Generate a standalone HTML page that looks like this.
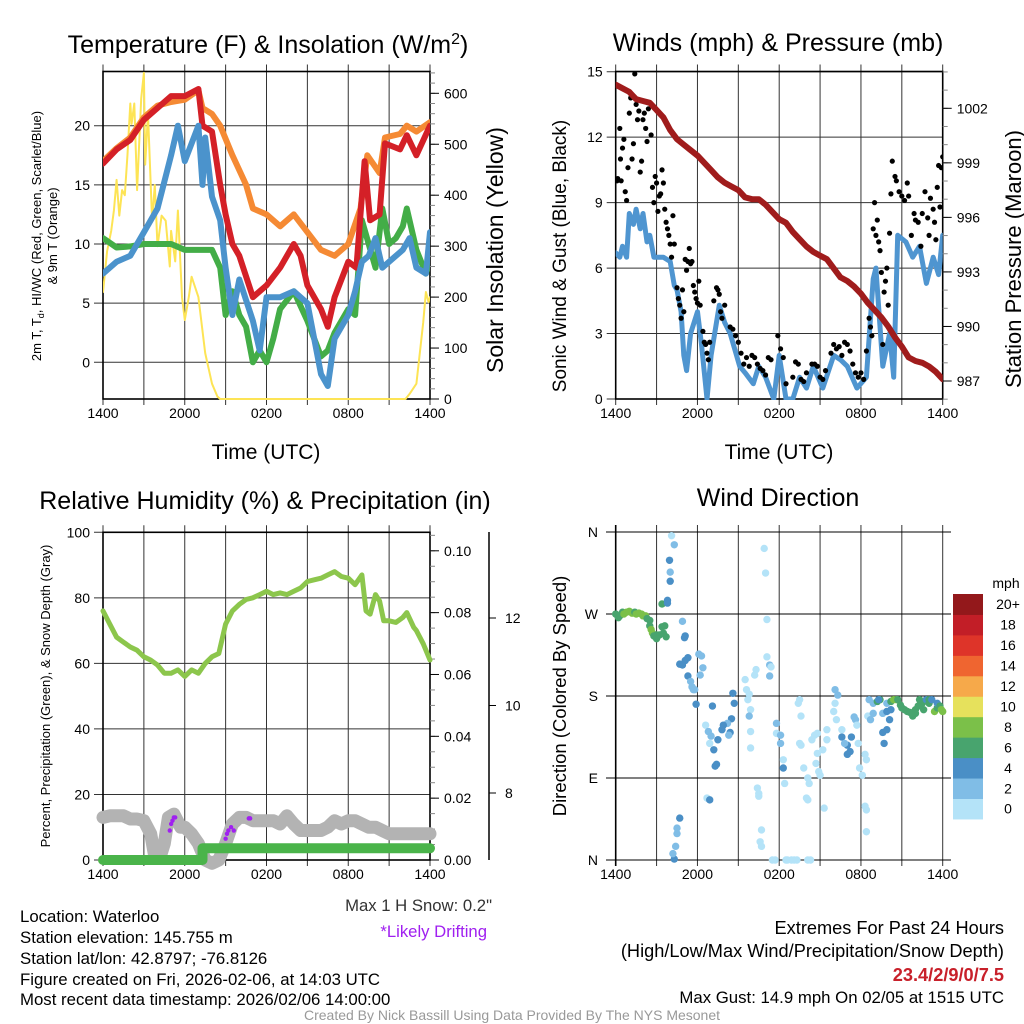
<!DOCTYPE html>
<html><head><meta charset="utf-8"><style>
html,body{margin:0;padding:0;background:#fff;}
svg{display:block;font-family:"Liberation Sans",Arial,sans-serif;}
</style></head><body>
<svg id="fig" width="1024" height="1024" viewBox="0 0 1024 1024" xmlns="http://www.w3.org/2000/svg">
<defs>
<clipPath id="c1"><rect x="103" y="71" width="327" height="329"/></clipPath>
<clipPath id="c2"><rect x="615.7" y="71" width="327" height="329"/></clipPath>
<clipPath id="c3"><rect x="90" y="520" width="360" height="360"/></clipPath>
<clipPath id="c4"><rect x="605" y="525" width="348" height="342"/></clipPath>
</defs>
<g id="p1"></g>
<g id="p2"></g>
<g id="p3"></g>
<g id="p4"></g>
<g font-size="25" fill="#000" text-anchor="middle">
<text x="268" y="53">Temperature (F) &amp; Insolation (W/m<tspan dy="-9" font-size="16">2</tspan><tspan dy="9">)</tspan></text>
<text x="778" y="51">Winds (mph) &amp; Pressure (mb)</text>
<text x="265" y="509">Relative Humidity (%) &amp; Precipitation (in)</text>
<text x="778" y="506">Wind Direction</text>
</g>
<g fill="#000" text-anchor="middle">
<text x="266" y="459" font-size="21">Time (UTC)</text>
<text x="779" y="459" font-size="21">Time (UTC)</text>
<text transform="translate(41,236) rotate(-90)" font-size="13">2m T, T<tspan font-size="9" dy="3">d</tspan><tspan dy="-3">, HI/WC (Red, Green, Scarlet/Blue)</tspan></text>
<text transform="translate(57,236) rotate(-90)" font-size="13">&amp; 9m T (Orange)</text>
<text transform="translate(503,250) rotate(-90)" font-size="23">Solar Insolation (Yellow)</text>
<text transform="translate(566,256) rotate(-90)" font-size="19">Sonic Wind &amp; Gust (Blue, Black)</text>
<text transform="translate(1021,259) rotate(-90)" font-size="22">Station Pressure (Maroon)</text>
<text transform="translate(50,696) rotate(-90)" font-size="13">Percent, Precipitation (Green), &amp; Snow Depth (Gray)</text>
<text transform="translate(566,696) rotate(-90)" font-size="18.5">Direction (Colored By Speed)</text>
</g>
<g font-size="16.8" fill="#000">
<text x="20" y="922">Location: Waterloo</text>
<text x="20" y="943">Station elevation: 145.755 m</text>
<text x="20" y="964">Station lat/lon: 42.8797; -76.8126</text>
<text x="20" y="985">Figure created on Fri, 2026-02-06, at 14:03 UTC</text>
<text x="20" y="1005">Most recent data timestamp: 2026/02/06 14:00:00</text>
</g>
<g font-size="18.2" text-anchor="end">
<text x="492" y="911" fill="#333" font-size="16.7">Max 1 H Snow: 0.2"</text>
<text x="487" y="937" fill="#a020f0" font-size="16.7">*Likely Drifting</text>
<text x="1004" y="934" fill="#000">Extremes For Past 24 Hours</text>
<text x="1004" y="957" fill="#000">(High/Low/Max Wind/Precipitation/Snow Depth)</text>
<text x="1004" y="981" fill="#c8202a" font-weight="bold">23.4/2/9/0/7.5</text>
<text x="1004" y="1003" fill="#000" font-size="16.8">Max Gust: 14.9 mph On 02/05 at 1515 UTC</text>
<text x="512" y="1020" fill="#999" font-size="14" text-anchor="middle">Created By Nick Bassill Using Data Provided By The NYS Mesonet</text>
</g>
</svg>
<script>
// ---------- data ----------
const timeTickLabels = ["1400","2000","0200","0800","1400"];
// Panel 1
const tempHours = [0,1,2,3,4,5,6,7,7.3,8,8.6,9,9.5,10,11,12,13,14,14.5,15,16,16.5,17,18,18.6,19.2,19.6,20.3,20.7,21.8,22.3,23,24];
const tempValues = [16.8,18,18.8,20.5,21.5,22.5,22.5,23.1,20,19.5,15,12.5,10,9,5.5,6.5,8,10,9,6.5,4.5,3,5.5,8.5,8,17,12,12.5,18.5,18,19.2,17.5,20];
const temp9mHours = [0,1,2,3,4,5,6,7,7.3,8,8.6,9.5,10.5,11,12,13,14,15,16,17,18,18.9,19.4,20.3,20.7,21.8,22.3,23,24];
const temp9mValues = [17,18.1,19,20.7,21.7,22,22.2,23,21.5,21,20,17.5,15,13,12.5,11.5,12.5,11,9.5,9,10,13,17.5,16,19,19.3,20,19.5,20.3];
const wcHours = [0,1,2,3,4,5,5.5,6,6.5,7,7.3,7.5,8,8.6,9,9.5,10,11,11.5,12,13,14,15,16,16.5,17,18,18.5,19,19.5,20,20.5,21,22,22.5,23,23.7,24];
const wcValues = [7.5,8.5,9,11,13,17.5,20,17,18.5,20,15,19,14,12,8,4,7,3.5,1,5.5,5.5,6,5,-1,-2,2,4,6,8.5,9,10.5,8,8.5,9.5,10.5,8,7.5,11];
const dewHours = [0,1,2,3,4,5,6,7,8,8.6,9,9.5,10,10.5,11,11.5,12,12.5,13,14,15,16,16.5,17,18,18.5,19,19.5,20,20.5,21,21.5,22,22.3,23,23.7,24];
const dewValues = [10.5,9.7,9.8,10,10,10,9.5,9.5,9.5,8,4,6,4,3,0,1,0,2,4.5,6,3.5,0.5,1,2.5,4.5,4,12,10,8,13,10,10.5,11.5,13,9.5,7.5,8.5];
const solarHours = [0,0.3,0.6,0.8,1,1.2,1.4,1.6,1.8,2,2.1,2.3,2.5,2.8,3,3.1,3.3,3.6,3.8,4,4.3,4.6,4.9,5,5.3,5.5,5.8,6,6.3,6.5,7,7.5,8,8.4,8.6,22.2,22.5,23,23.5,23.7,23.9,24];
const solarValues = [210,290,330,370,430,360,410,400,480,580,540,580,410,590,640,460,560,350,420,300,360,350,260,330,270,370,200,155,200,240,200,90,30,5,0,0,10,30,150,210,190,200];
const tempTicks = [0,5,10,15,20];
const solarTicks = [0,100,200,300,400,500,600];
// Panel 2
const windHours = [0,0.3,0.5,0.8,1,1.3,1.5,1.8,2,2.3,2.5,2.8,3,3.5,4,4.3,4.5,4.8,5,5.2,5.5,6,6.3,6.7,7,7.6,8,8.4,9.1,9.5,10.1,10.5,11,11.6,12,12.5,13,13.5,14,14.5,15.2,16,16.5,17,17.7,18.4,18.9,19.1,19.6,20.1,20.4,20.7,21.3,21.8,22.3,22.8,23.3,23.7,24];
const windValues = [6.7,6.5,7,6.5,8.5,8,8.7,7.8,8.5,7.2,7.5,6.5,6.5,6.5,6.3,5.2,5,4,2,1.3,3,4,2.5,0,2,4.3,3.5,3,1.5,1.2,0.7,1.5,1,0,2,0,0,1,0.5,1.5,0.5,2,1.8,1.5,0.5,1,5.5,6,1.5,3,1,7.5,7.2,6.5,7,5.3,6.5,5.7,7.5];
const gustHours = [0.1,0.15,0.3,0.35,0.4,0.5,0.6,0.7,0.8,0.9,1.0,1.1,1.2,1.3,1.4,1.5,1.6,1.7,1.8,1.9,2.0,2.1,2.2,2.3,2.4,
 2.6,2.7,2.8,2.9,3.0,3.1,3.2,3.3,3.4,3.5, 3.6,3.7,3.8,3.9,4.0,4.1,4.2,4.3,
 4.5,4.6,4.7,4.8,4.9,5.0,5.1,5.2,5.3,5.4,5.5,5.6, 5.7,5.8,5.9,6.0,6.1,6.2, 6.4,6.5,6.6,6.7,6.8,6.9,
 7.2,7.4,7.5,7.6,7.7,7.8,8.0, 8.4,8.6,8.8,9.0,9.2,9.4,9.6,9.8, 10.0,10.2,10.4,10.6,10.8,11.0,11.2,11.4,
 11.9,12.1,12.3,12.5, 13.0,13.2,13.4,13.6,13.8,14.0, 14.4,14.6,14.8,15.0,15.2,15.4,
 15.8,16.0,16.2,16.4,16.6,16.8,17.0,17.2,17.4, 17.6,17.8,18.0,18.2,18.4,
 18.6,18.7,18.8,18.9,19.0,19.1,19.2,19.3,19.4,19.5, 19.6,19.7,19.8,19.9,20.0,20.1,20.2,20.3,
 20.5,20.6,20.8,21.0,21.2,21.4,21.5,21.7,21.9,22.0,22.2,22.4,22.5,22.7,22.9,23.0,23.1,23.3,23.4,23.5,23.6,23.7,23.8,23.9,24.0];
const gustValues = [10,10.1,12.4,11,10,11.5,11.9,9.5,9.1,10.6,13.1,13.8,11,11.7,14.9,13.5,12.8,13.2,10.4,10.9,12.8,13.1,12.4,11.8,13.3,
 12.1,9.7,9,10.2,9.9,8.6,9.3,9.4,10.5,9.9, 8.7,8.1,7.8,7.5,7.1,6.5,8.4,7.1,
 5.1,4.6,4.3,3.7,5,4,6.4,5.9,6.3,6.9,6.2,6.3, 5.2,4.9,4.6,4.4,5.4,4.3, 3.1,2.6,2.5,2.1,1.8,2.6,
 4.5,5.1,5,4.8,4,3.7,4.3, 3.3,3.2,2.9,2.6,2.1,1.6,1.9,1.5, 2,1.9,1.6,1.4,1.3,1.1,1.9,1.8,
 2.9,2.3,1.9,0.7, 1,1.7,1.6,0.9,0.8,1.2, 1.6,1.6,1.5,1,0.9,1.3,
 2.1,2.5,2.3,2.4,2,2.6,2.5,2.2,1.6, 1.2,1,1.2,0.9,2.2,
 3.7,3.3,2.9,7.8,9,7.5,8.2,7.2,6.8,5.8, 2.5,4.9,5.4,6,4.3,7.6,9.4,10.9,
 10.2,10,9.5,9.3,9.1,9.9,9.3,7.5,8.5,8.2,8.1,7,8.5,9.5,8.3,7.5,9.2,8.7,8.1,7.3,9.7,10.7,8.8,10.6,11.1];
const pressHours = [0,0.5,1,1.5,2,2.5,3,3.5,4,4.5,5,5.5,6,6.5,7,7.5,8,8.5,9,9.5,10,10.5,11,11.5,12,12.5,13,13.5,14,14.5,15,15.5,16,16.5,17,17.5,18,18.5,19,19.5,20,20.5,21,21.5,22,22.5,23,23.5,24];
const pressValues = [1003.3,1003.1,1002.9,1002.5,1002.4,1002.3,1001.9,1001.5,1000.8,1000.3,1000,999.7,999.4,999,998.6,998.2,997.9,997.7,997.5,997.1,997,997,996.7,996.3,995.9,995.7,995.2,994.8,994.4,994.1,993.9,993.7,993.2,992.7,992.5,992.2,991.8,991.3,990.9,990.5,990,989.4,988.9,988.3,988.1,988,987.8,987.5,987.1];
const windTicks = [0,3,6,9,12,15];
const pressTicks = [987,990,993,996,999,1002];
// Panel 3
const rhHours = [0,0.5,1,1.5,2,2.5,3,3.5,4,4.5,5,5.5,6,6.5,7,7.5,8,8.5,9,9.5,10,10.5,11,11.5,12,12.5,13,13.5,14,14.5,15,15.5,16,16.5,17,17.5,18,18.5,19,19.3,19.6,20,20.3,20.6,21,21.5,22,22.3,22.8,23,23.5,24];
const rhValues = [76,72,68,66.5,65,64,62,61,59.5,57,57,58,56,58,57,60,62,63,72,76,78,79.5,80,81,82,81,81.5,81,82,83,85,85.5,86,87,88,86.5,86,84,87,76,75,81,79,73,73,72.5,74,75.5,71,70,66,61];
const snowHours = [0,0.5,1,1.5,2,2.5,3,3.5,3.8,4.2,4.5,4.8,5.2,5.7,6,6.5,7,7.5,8,8.5,9,9.5,10,10.5,11,11.5,12,12.5,13,13.5,14,14.5,15,15.5,16,16.5,17,17.5,18,18.5,19,19.5,20,20.5,21,22,23,24];
const snowValues = [13,13.5,13.5,13.5,12.5,12.5,12,8,1,1,5,13,14,10,10,8,5,0,-1,0,5,11,13,13,12,12,12,12,11,13.5,11,9,9,9,9,10,12,11,12,12,11,10,10,9,8,8,8,8];
const driftHours = [4.9,5.0,5.1,5.2,5.3,9.0,9.1,9.2,9.4,9.6,10.7,10.8];
const driftValues = [9,11,12,13,13,6.5,8,9,10,9,12.7,12.7];
const precipHours = [0,7.3,7.3,24];
const precipValues = [0,0,0.0038,0.0038];
const rhTicks = [0,20,40,60,80,100];
const precipTicks = [0,0.02,0.04,0.06,0.08,0.10];
const snowDepthTicks = [8,10,12];
// Panel 4
const dirHour = [0,0.2,0.3,0.5,0.6,0.8,1,1.2,1.4,1.5,1.7,1.9,2,2.2,2.3,2.5,2.5,2.6,2.7,2.8,3,3,3.2,3.4,3.5,3.6,3.7,3.4,3.8,3.8,
 4.1,4.3,4.0,4.0,3.95,4.9,5.1,5.05,
 4.7,4.9,5.1,5.3,5.3,5.5,5.6,5.7,5.8,5.9,6.1,6.3,6.4,6.2,
 6.6,6.8,7.0,6.9,7.2,7.5,7.8,7.3,7.4,7.1,6.7,6.9,
 8.6,8.7,8.5,8.4,8.3,8.2,7.9,
 4.3,4.2,4.4,4.5,4.5,4.7,
 9.5,9.6,9.7,9.9,9.8,9.9,9.9,10.3,10.2,9.8,
 10.9,11.0,11.1,11.1,11.3,11.3,11.4,
 11.8,11.8,12.1,12.1,12.3,12.3,12.4,
 10.4,10.5,10.5,10.7,10.6,10.7,
 11.5,11.7,12.5,12.6,12.9,13.1,13.3,14.1,14.3,
 13.5,13.4,13.6,13.5,13.6,13.8,14.1,14.2,14.0,14.1,
 14.4,14.6,14.8,14.8,14.7,14.9,15.0,15.3,
 15.5,15.2,15.5,16.1,16.3,16.1,16.0,16.2,16.6,
 16.6,17.0,17.0,17.2,17.3,17.5,16.8,
 17.6,17.7,17.8,18.3,18.4,17.9,18.1,18.3,18.4,18.4,18.5,
 18.6,18.9,18.9,18.7,19.2,19.4,19.3,19.6,19.9,19.9,19.6,19.7,19.9,20.1,20.2,
 20.2,20.4,20.6,20.7,20.9,21,21.2,21.4,21.6,21.8,22,22,22.2,22.3,22.5,22.6,22.8,23,23,23.2,23.4,23.6,23.6,23.8,23.9,24];
const dirDeg = [270,266,268,272,270,272,273,271,272,270,271,270,268,268,265,263,257,253,249,246,247,243,247,256,249,257,245,281,282,285,
 356,346,316,306,329,262,246,244,
 215,214,219,222,202,196,190,187,187,171,226,224,211,203,
 148,141,136,128,121,132,143,103,105,169,68,66,
 183,172,155,140,137,150,148,
 1,7,15,29,35,46,
 198,187,176,165,158,141,123,209,203,182,
 342,315,264,223,214,202,212,
 150,139,137,128,110,101,84,
 79,73,70,33,20,15,
 0,0,0,0,0,0,0,0,0,
 176,172,158,128,126,101,90,84,68,66,
 132,137,139,117,106,97,93,57,
 143,121,132,187,181,172,163,154,143,
 135,126,116,119,135,157,128,
 154,148,128,116,110,101,93,59,55,31,158,
 176,172,161,154,174,176,176,161,163,172,140,128,143,154,165,
 174,176,176,176,170,167,165,163,162,158,161,165,169,176,172,165,176,176,172,176,163,167,172,169,165,163];
const dirSpeed = [7,7,7,7,9,9,9,9,7,9,9,9,9,9,7,7,7,9,9,7,7,7,7,7,7,7,7,7,5,5,
 1,3,3,5,5,3,5,5,
 5,5,5,5,5,3,3,3,3,5,3,3,3,3,
 1,3,3,1,5,5,5,5,5,5,1,5,
 5,5,5,5,3,3,5,
 5,3,3,3,3,5,
 1,1,1,1,3,1,1,1,1,1,
 1,1,1,1,3,3,1,
 3,1,3,3,1,5,1,
 1,1,1,1,1,1,
 1,1,1,1,1,1,1,1,1,
 1,1,1,1,1,1,1,1,1,1,
 1,1,1,1,1,1,1,1,
 1,1,1,3,3,1,1,1,1,
 5,5,5,5,5,3,3,
 3,1,1,1,1,1,1,1,1,1,1,
 3,3,3,3,7,7,5,3,5,3,5,5,5,5,5,
 7,9,9,7,7,7,7,7,7,7,7,7,7,7,7,7,5,7,7,5,9,7,5,7,9,9];
const dirTickLabels = ["N","E","S","W","N"];
const speedLabels = ["0","2","4","6","8","10","12","14","16","18","20+"];
const speedColors = ["#b4e3f8","#80bde6","#4a8fc6","#48a46e","#7bc049","#e6e15c","#f6a94a","#ef6530","#de3429","#c21e27","#93181b"];

// ---------- scales ----------
const NS = "http://www.w3.org/2000/svg";
const L = 103, R = 430, L2 = 615.7, R2 = 942.7;
const x1 = h => L + h * (R - L) / 24;
const x2 = h => L2 + h * (R2 - L2) / 24;
const yTemp = v => 362.3 - v * 11.83;
const ySolar = w => 399 - w * 0.5095;
const yWind = v => 399 - v * 21.82;
const yPress = p => 381 - (p - 987) * 18.18;
const yRH = v => 860 - v * 3.277;
const yPrecip = v => 860 - v * 3092;
const ySnowDepth = v => 793 - (v - 8) * 43.75;
const yDir = d => 860 - d * 0.911;

function mk(tag, attrs, parent) {
  const e = document.createElementNS(NS, tag);
  for (const k in attrs) e.setAttribute(k, attrs[k]);
  parent.appendChild(e);
  return e;
}
function pathD(hs, vs, fx, fy) {
  return hs.map((h, i) => (i ? "L" : "M") + fx(h).toFixed(1) + "," + fy(vs[i]).toFixed(1)).join("");
}
function frame(g, left, right, top, bottom, ylist, yfn, ylabels, prefix) {
  for (let i = 0; i <= 8; i++) {
    const x = left + i * (right - left) / 8;
    const gl = mk("line", {x1: x, x2: x, y1: top - 7, y2: bottom + 6, stroke: "#333", "stroke-width": 1}, g);
    
    
  }
  for (let i = 0; i < 5; i++) {
    const t = mk("text", {x: left + i * (right - left) / 4, y: bottom + 19, "font-size": 14, "text-anchor": "middle"}, g);
    t.textContent = timeTickLabels[i];
    
    
  }
  ylist.forEach((v, i) => {
    const y = yfn(v);
    const hl = mk("line", {x1: left - 9, x2: right, y1: y, y2: y, stroke: "#333", "stroke-width": 1}, g);
    
    
    const t = mk("text", {x: left - 13, y: y + 5, "font-size": 14, "text-anchor": "end"}, g);
    t.textContent = ylabels[i];
    
    
  });
  const box = mk("rect", {x: left, y: top, width: right - left, height: bottom - top, fill: "none", stroke: "#000", "stroke-width": 1.6}, g);
  
  
}
function rightAxis(g, x, ticks, fy, labels, prefix, minorStep, lo, hi) {
  for (let v = lo; v <= hi + 1e-9; v += minorStep) {
    const m = mk("line", {x1: x, x2: x + 5, y1: fy(v), y2: fy(v), stroke: "#888", "stroke-width": 1}, g);
    
    
  }
  ticks.forEach((v, i) => {
    const tk = mk("line", {x1: x, x2: x + 9, y1: fy(v), y2: fy(v), stroke: "#000", "stroke-width": 1}, g);
    
    
    const t = mk("text", {x: x + 14, y: fy(v) + 5, "font-size": 14}, g);
    t.textContent = labels[i];
    
    
  });
}
function series(g, hs, vs, fx, fy, color, w, clip, name) {
  const p = mk("path", {d: pathD(hs, vs, fx, fy), fill: "none", stroke: color, "stroke-width": w, "stroke-linejoin": "round", "stroke-linecap": "round", "clip-path": clip}, g);
  
  
}

// ---------- Panel 1 ----------
const g1 = document.getElementById("p1");
frame(g1, L, R, 71.5, 399, tempTicks, yTemp, tempTicks.map(String), "p1");
rightAxis(g1, R, solarTicks, ySolar, solarTicks.map(String), "p1-solar", 20, 0, 640);
series(g1, solarHours, solarValues, x1, ySolar, "#fde455", 2, "url(#c1)", "solar-insolation-line");
series(g1, temp9mHours, temp9mValues, x1, yTemp, "#f58a34", 6, "url(#c1)", "temperature-9m-line");
series(g1, dewHours, dewValues, x1, yTemp, "#43ad47", 6, "url(#c1)", "dewpoint-line");
series(g1, tempHours, tempValues, x1, yTemp, "#d42027", 6, "url(#c1)", "temperature-2m-line");
series(g1, wcHours, wcValues, x1, yTemp, "#4b93cc", 6, "url(#c1)", "wind-chill-line");

// ---------- Panel 2 ----------
const g2 = document.getElementById("p2");
frame(g2, L2, R2, 71.5, 399, windTicks, yWind, windTicks.map(String), "p2");
rightAxis(g2, R2, pressTicks, yPress, pressTicks.map(String), "p2-pressure", 1, 986, 1004);
series(g2, windHours, windValues, x2, yWind, "#4f95d0", 5, "url(#c2)", "sonic-wind-line");
gustHours.forEach((h, i) => {
  const c = mk("circle", {cx: x2(h), cy: yWind(gustValues[i]), r: 2.6, fill: "#000", "clip-path": "url(#c2)"}, g2);
  
  
});
series(g2, pressHours, pressValues, x2, yPress, "#a01c1c", 6, "url(#c2)", "station-pressure-line");

// ---------- Panel 3 ----------
const g3 = document.getElementById("p3");
frame(g3, L, R, 532.3, 860, rhTicks, yRH, rhTicks.map(String), "p3");
rightAxis(g3, R, precipTicks, yPrecip, precipTicks.map(v => v.toFixed(2)), "p3-precip", 0.005, 0, 0.105);
const sa = mk("line", {x1: 489, x2: 489, y1: 532, y2: 860, stroke: "#000", "stroke-width": 1.5}, g3);


snowDepthTicks.forEach(v => {
  const tk = mk("line", {x1: 489, x2: 496, y1: ySnowDepth(v), y2: ySnowDepth(v), stroke: "#000"}, g3);
  
  
  const t = mk("text", {x: 505, y: ySnowDepth(v) + 5, "font-size": 14}, g3);
  t.textContent = String(v);
  
  
});
series(g3, snowHours, snowValues, x1, yRH, "#b3b3b3", 13, "url(#c3)", "snow-depth-line");
series(g3, precipHours, precipValues, x1, yPrecip, "#4ab44a", 10, "url(#c3)", "precipitation-line");
series(g3, rhHours, rhValues, x1, yRH, "#8cc64c", 5, "url(#c3)", "relative-humidity-line");
driftHours.forEach((h, i) => {
  const c = mk("circle", {cx: x1(h), cy: yRH(driftValues[i]), r: 2.2, fill: "#a020f0"}, g3);
  
  
});

// ---------- Panel 4 ----------
const g4 = document.getElementById("p4");
for (let i = 0; i <= 8; i++) {
  const x = L2 + i * (R2 - L2) / 8;
  const gl = mk("line", {x1: x, x2: x, y1: 525, y2: 866, stroke: "#333", "stroke-width": 1}, g4);
  
  
}
for (let i = 0; i < 5; i++) {
  const t = mk("text", {x: L2 + i * (R2 - L2) / 4, y: 879, "font-size": 14, "text-anchor": "middle"}, g4);
  t.textContent = timeTickLabels[i];
  
  
}
dirTickLabels.forEach((lab, i) => {
  const y = yDir(i * 90);
  const hl = mk("line", {x1: 606, x2: 951, y1: y, y2: y, stroke: "#000", "stroke-width": 1}, g4);
  
  
  const t = mk("text", {x: 598, y: y + 5, "font-size": 14, "text-anchor": "end"}, g4);
  t.textContent = lab;
  
  
});
const ax4 = mk("line", {x1: L2, x2: L2, y1: 525, y2: 866, stroke: "#000", "stroke-width": 1.6}, g4);


dirHour.forEach((h, i) => {
  const ci = Math.min(10, Math.floor(dirSpeed[i] / 2));
  const c = mk("circle", {cx: x2(h), cy: yDir(dirDeg[i]), r: 3.7, fill: speedColors[ci], "clip-path": "url(#c4)"}, g4);
  
  
});
const cbTop = 594, cbH = 20.45;
speedLabels.forEach((lab, i) => {
  const k = 10 - i;
  const r = mk("rect", {x: 953, y: cbTop + (10 - i) * cbH, width: 30, height: cbH + 0.5, fill: speedColors[i]}, g4);
  
  
  const t = mk("text", {x: 1008, y: cbTop + k * cbH + cbH / 2 + 5, "font-size": 14, "text-anchor": "middle"}, g4);
  t.textContent = lab;
  
  
});
const mph = mk("text", {x: 1006, y: 588, "font-size": 14, "text-anchor": "middle"}, g4);
mph.textContent = "mph";


</script>
</body></html>
